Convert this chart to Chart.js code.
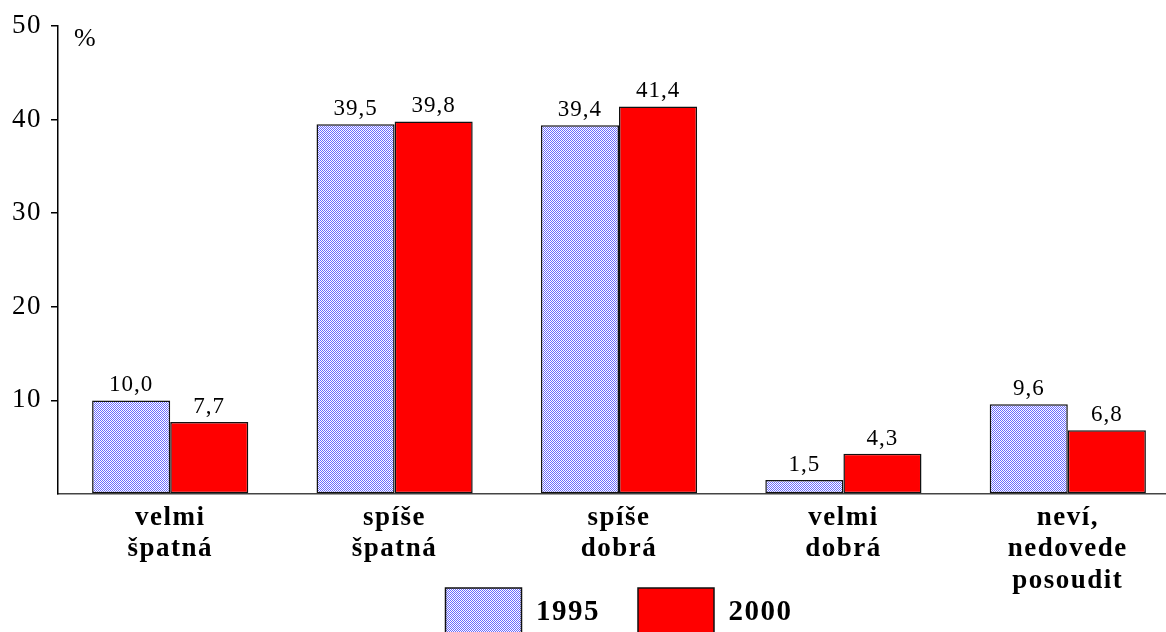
<!DOCTYPE html>
<html>
<head>
<meta charset="utf-8">
<script src="https://cdn.jsdelivr.net/npm/chart.js@4"></script>
<style>
  html, body { margin: 0; padding: 0; background: #fff; overflow: hidden; }
  #wrap { width: 1166px; height: 632px; overflow: hidden; position: relative; }
  #box { width: 1180px; height: 700px; position: absolute; left: 0; top: 0; }
</style>
</head>
<body>
<div id="wrap"><div id="box"><canvas id="graf"></canvas></div></div>
<script>
// data
const kategorie = [['velmi', 'špatná'], ['spíše', 'špatná'], ['spíše', 'dobrá'], ['velmi', 'dobrá'], ['neví,', 'nedovede', 'posoudit']];
const roky = ['1995', '2000'];
const hodnoty1995 = [10.0, 39.5, 39.4, 1.5, 9.6];
const hodnoty2000 = [7.7, 39.8, 41.4, 4.3, 6.8];
const yTicky = [10, 20, 30, 40, 50];

// kostkovany vzor pro 1995
function vzor() {
  const c = document.createElement('canvas');
  c.width = 2; c.height = 2;
  const x = c.getContext('2d');
  x.fillStyle = '#ffffff';
  x.fillRect(0, 0, 2, 2);
  x.fillStyle = '#6a6aff';
  x.fillRect(0, 0, 1, 1);
  x.fillRect(1, 1, 1, 1);
  return x.createPattern(c, 'repeat');
}

const serif = '"Liberation Serif", "Times New Roman", serif';

// proklad pismen (puvodni pismo je sirsi)
const proklad = {
  id: 'proklad',
  beforeLayout(chart) { chart.ctx.letterSpacing = '1.5px'; },
  beforeDraw(chart) { chart.ctx.letterSpacing = '1.5px'; },
  // legenda posunuta nahoru, prekryva spodek osy x
  afterLayout(chart) {
    const l = chart.legend;
    if (l) { l.top -= 52; l.bottom -= 52; }
  }
};

// popisky hodnot nad sloupci
const popisky = {
  id: 'popisky',
  afterDatasetsDraw(chart) {
    const ctx = chart.ctx;
    ctx.save();
    ctx.letterSpacing = '1px';
    ctx.font = '23px ' + serif;
    ctx.fillStyle = '#000';
    ctx.textAlign = 'center';
    ctx.textBaseline = 'alphabetic';
    chart.data.datasets.forEach((ds, i) => {
      chart.getDatasetMeta(i).data.forEach((bar, j) => {
        ctx.fillText(ds.data[j].toFixed(1).replace('.', ','), bar.x, bar.y - 9);
      });
    });
    // jednotka
    ctx.font = '26px ' + serif;
    ctx.textAlign = 'left';
    ctx.fillText('%', 74, 46);
    ctx.restore();
  }
};

new Chart(document.getElementById('graf'), {
  type: 'bar',
  data: {
    labels: kategorie,
    datasets: [{
      label: roky[0],
      data: hodnoty1995,
      backgroundColor: vzor(),
      borderColor: '#111',
      borderWidth: 1.5,
      borderSkipped: false
    }, {
      label: roky[1],
      data: hodnoty2000,
      backgroundColor: '#ff0000',
      borderColor: '#111',
      borderWidth: 1.5,
      borderSkipped: false
    }]
  },
  options: {
    responsive: true,
    maintainAspectRatio: false,
    animation: false,
    layout: { padding: { top: 26, left: 0, right: 0, bottom: 0 } },
    datasets: { bar: { barPercentage: 1, categoryPercentage: 0.696 } },
    plugins: {
      tooltip: { enabled: false },
      legend: {
        position: 'bottom',
        fullSize: false,
        labels: {
          boxWidth: 76,
          boxHeight: 50,
          padding: 38,
          color: '#000',
          font: { family: serif, size: 29, weight: 'bold' }
        }
      }
    },
    scales: {
      x: {
        grid: { display: false },
        border: { display: true, color: '#444', width: 1.5 },
        ticks: {
          color: '#000',
          padding: 0,
          maxRotation: 0,
          autoSkip: false,
          font: { family: serif, size: 27, weight: 'bold', lineHeight: 1.17 }
        },
        afterFit(scale) { scale.height = 108; }
      },
      y: {
        min: 0,
        max: 50,
        afterBuildTicks(scale) { scale.ticks = [0].concat(yTicky).map(v => ({ value: v })); },
        grid: {
          drawOnChartArea: false,
          drawTicks: true,
          tickLength: 7,
          lineWidth: 1.5,
          color: c => (c.tick && c.tick.value === 0) ? 'rgba(0,0,0,0)' : '#000'
        },
        border: { display: true, color: '#000', width: 1.5 },
        ticks: {
          color: '#000',
          padding: 9,
          font: { family: serif, size: 27 },
          callback: v => v === 0 ? '' : v
        },
        afterFit(scale) { scale.width = 58; }
      }
    }
  },
  plugins: [proklad, popisky]
});
</script>
</body>
</html>
